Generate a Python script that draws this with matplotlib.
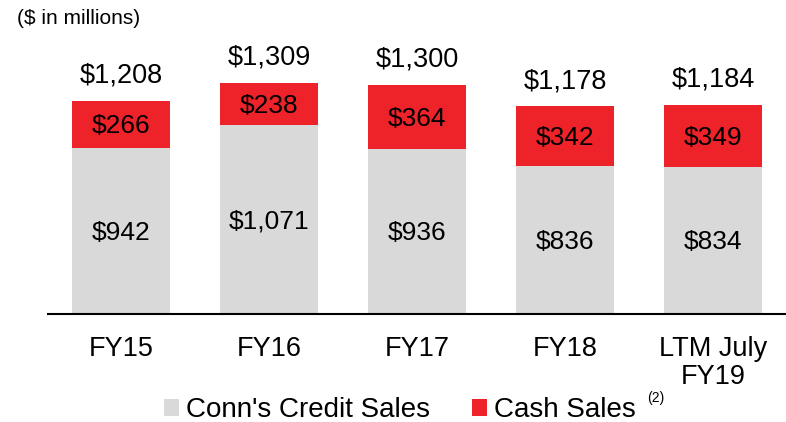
import matplotlib
matplotlib.use("Agg")
import matplotlib.pyplot as plt
from matplotlib.patches import Patch

categories = ["FY15", "FY16", "FY17", "FY18", "LTM July\nFY19"]
credit_sales = [942, 1071, 936, 836, 834]
cash_sales = [266, 238, 364, 342, 349]
totals = [1208, 1309, 1300, 1178, 1184]

GRAY = "#D9D9D9"
RED = "#EE2229"

plt.rcParams['font.family'] = ['Liberation Sans', 'DejaVu Sans']

fig = plt.figure(figsize=(7.86, 4.22), dpi=100)
ax = fig.add_axes([48/786, (422-314)/422, 1 - 48/786, 314/422])

x = list(range(len(categories)))
w = 0.66
ax.bar(x, credit_sales, width=w, color=GRAY, zorder=2)
ax.bar(x, cash_sales, width=w, bottom=credit_sales, color=RED, zorder=2)

for i in x:
    ax.annotate(f"${credit_sales[i]:,}", (i, credit_sales[i] / 2), xytext=(0, -1.5),
                textcoords='offset points', ha='center', va='center', fontsize=19)
    ax.annotate(f"${cash_sales[i]:,}", (i, credit_sales[i] + cash_sales[i] / 2), xytext=(0, -1.5),
                textcoords='offset points', ha='center', va='center', fontsize=19)
    ax.annotate(f"${totals[i]:,}", (i, totals[i]), xytext=(0, 13), textcoords='offset points',
                ha='center', va='baseline', fontsize=19.5)

ax.set_xlim(-0.493, 4.493)
ax.set_ylim(0, 1779)
ax.set_xticks(x)
ax.set_xticklabels(categories, fontsize=19.5, linespacing=1.1)
ax.tick_params(axis='x', length=0, pad=16)
ax.set_yticks([])
for s in ['top', 'right', 'left']:
    ax.spines[s].set_visible(False)
ax.spines['bottom'].set_linewidth(1.5)
ax.spines['bottom'].set_color('black')

fig.text(17/786, 1 - 18/422, "($ in millions)", fontsize=15, va='center', ha='left')

handles = [Patch(facecolor=GRAY, label="Conn's Credit Sales"),
           Patch(facecolor=RED, label="Cash Sales")]
leg = fig.legend(handles=handles, loc='center', bbox_to_anchor=(400/786, 1 - 410/422), ncol=2,
                 frameon=False, fontsize=20, handlelength=0.55, handleheight=0.55,
                 handletextpad=0.25, columnspacing=1.5, borderpad=0)
fig.text(647/786, 1 - 398/422, "(2)", fontsize=10, va='center', ha='left')

fig.savefig("out.png", dpi=100)
